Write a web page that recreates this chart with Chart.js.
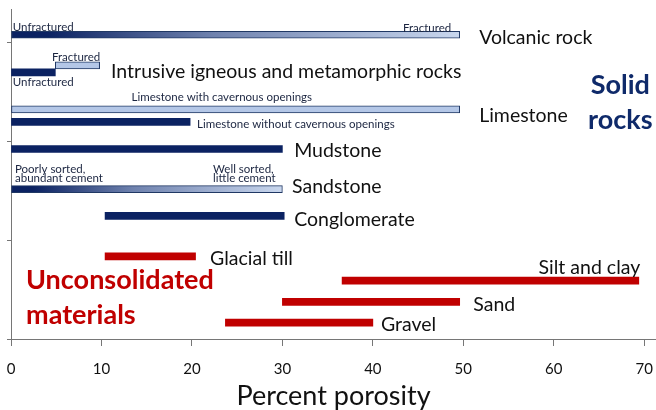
<!DOCTYPE html>
<html>
<head>
<meta charset="utf-8">
<script src="https://cdn.jsdelivr.net/npm/chart.js@4"></script>
<style>
  html, body { margin: 0; padding: 0; background: #fff; }
  #wrap { width: 656px; height: 410px; }
</style>
</head>
<body>
<div id="wrap"><canvas id="chart"></canvas></div>
<script>
// porosity ranges in percent, [low, high]
const gradientNames = ['Volcanic rock', 'Sandstone'];
const gradientRanges = [[0, 49.6], [0, 30]];
const navyNames = ['Intrusive (unfractured)', 'Limestone without cavernous openings', 'Mudstone', 'Conglomerate'];
const navyRanges = [[0, 4.9], [0, 19.8], [0, 30], [10.4, 30.2]];
const lightNames = ['Intrusive (fractured)', 'Limestone with cavernous openings'];
const lightRanges = [[4.9, 9.8], [0, 49.6]];
const looseNames = ['Glacial till', 'Silt and clay', 'Sand', 'Gravel'];
const looseRanges = [[10.4, 20.4], [36.6, 69.4], [30, 49.6], [23.7, 40]];
const xTicks = [0, 10, 20, 30, 40, 50, 60, 70];
const yTicks = [0, 1, 2, 3];

// row heights on the hidden vertical axis (0 at the bottom)
const gradientRows = [3.075, 1.515];
const navyRows = [2.695, 2.195, 1.92, 1.245];
const lightRows = [2.765, 2.32];
const looseRows = [0.835, 0.59, 0.375, 0.165];

// text notes: [text, x value, row, align, style]
const notes = [
    ['Unfractured', 0.2, 3.16, 'left', 'small'],
    ['Fractured', 48.66, 3.15, 'right', 'small'],
    ['Volcanic rock', 51.75, 3.06, 'left', 'name'],
    ['Fractured', 4.53, 2.85, 'left', 'small'],
    ['Intrusive igneous and metamorphic rocks', 11.06, 2.72, 'left', 'name'],
    ['Unfractured', 0.2, 2.60, 'left', 'small'],
    ['Limestone with cavernous openings', 23.3, 2.45, 'center', 'small'],
    ['Limestone', 51.75, 2.28, 'left', 'name'],
    ['Limestone without cavernous openings', 20.57, 2.17, 'left', 'small'],
    ['Mudstone', 31.3, 1.92, 'left', 'name'],
    ['Poorly sorted,', 0.44, 1.72, 'left', 'small'],
    ['abundant cement', 0.44, 1.63, 'left', 'small'],
    ['Well sorted,', 22.34, 1.72, 'left', 'small'],
    ['little cement', 22.34, 1.63, 'left', 'small'],
    ['Sandstone', 31.07, 1.56, 'left', 'name'],
    ['Conglomerate', 31.3, 1.23, 'left', 'name'],
    ['Glacial till', 22.0, 0.83, 'left', 'name'],
    ['Silt and clay', 69.56, 0.74, 'right', 'name'],
    ['Sand', 51.1, 0.37, 'left', 'name'],
    ['Gravel', 40.9, 0.16, 'left', 'name'],
    ['Solid', 67.35, 2.57, 'center', 'solid'],
    ['rocks', 67.35, 2.22, 'center', 'solid'],
    ['Unconsolidated', 1.66, 0.62, 'left', 'loose'],
    ['materials', 1.66, 0.27, 'left', 'loose']
];

const NAVY = '#0b2262';
const LIGHT = '#b4c7e7';
const EDGE = '#203864';
const RED = '#c00000';
const AXIS = '#767676';

const noteFonts = {
    small: { font: '11.5px Lato', color: '#1b2540', dy: 0.5 },
    name: { font: '19.5px Lato', color: '#111', dy: 2 },
    solid: { font: 'bold 27px Lato', color: '#0f2a6a', dy: 1 },
    loose: { font: 'bold 27px Lato', color: RED, dy: 3 }
};

function toPoints(ranges, rows) {
    return ranges.map((r, i) => ({ x: r, y: rows[i] }));
}

// dark-to-light fade along each bar
function gradFill(c) {
    const chart = c.chart;
    if (!chart.chartArea || c.type !== 'data') return NAVY;
    const xs = chart.scales.x;
    const x0 = xs.getPixelForValue(c.raw.x[0]);
    const x1 = xs.getPixelForValue(c.raw.x[1]);
    const g = chart.ctx.createLinearGradient(x0, 0, x1, 0);
    g.addColorStop(0, NAVY);
    g.addColorStop(0.08, NAVY);
    g.addColorStop(0.45, '#6f82ae');
    g.addColorStop(1, '#c9d7ee');
    return g;
}

const notesPlugin = {
    id: 'notes',
    afterDatasetsDraw(chart) {
        const { ctx, scales: { x, y } } = chart;
        ctx.save();
        ctx.textBaseline = 'middle';
        notes.forEach(([text, vx, vy, align, style]) => {
            const f = noteFonts[style];
            ctx.font = f.font;
            ctx.fillStyle = f.color;
            ctx.textAlign = align;
            ctx.fillText(text, x.getPixelForValue(vx), y.getPixelForValue(vy) + f.dy);
        });
        ctx.restore();
    }
};

new Chart(document.getElementById('chart'), {
    type: 'bar',
    data: {
        datasets: [
            { label: 'gradient', data: toPoints(gradientRanges, gradientRows), backgroundColor: gradFill, borderColor: EDGE, borderWidth: 1, borderSkipped: false },
            { label: 'navy', data: toPoints(navyRanges, navyRows), backgroundColor: NAVY, borderWidth: 0 },
            { label: 'light', data: toPoints(lightRanges, lightRows), backgroundColor: LIGHT, borderColor: EDGE, borderWidth: 1, borderSkipped: false },
            { label: 'loose', data: toPoints(looseRanges, looseRows), backgroundColor: RED, borderWidth: 0 }
        ]
    },
    options: {
        indexAxis: 'y',
        responsive: true,
        maintainAspectRatio: false,
        animation: false,
        datasets: { bar: { grouped: false, barThickness: 7 } },
        layout: { padding: { left: 7, top: 9, right: 0, bottom: 0 } },
        plugins: { legend: { display: false }, tooltip: { enabled: false } },
        scales: {
            x: {
                type: 'linear',
                min: 0,
                max: 71.3,
                afterBuildTicks: s => { s.ticks = xTicks.map(v => ({ value: v })); },
                ticks: { font: { family: 'Lato', size: 15, lineHeight: 2.7 }, color: '#111', padding: 3, maxRotation: 0 },
                grid: { drawOnChartArea: false, tickLength: 7, color: AXIS },
                border: { color: AXIS },
                title: { display: true, text: 'Percent porosity', font: { family: 'Lato', size: 27, lineHeight: 1 }, color: '#111', padding: { top: -9.5, bottom: 0 } }
            },
            y: {
                type: 'linear',
                offset: false,
                min: 0,
                max: 3.335,
                afterBuildTicks: s => { s.ticks = yTicks.map(v => ({ value: v })); },
                ticks: { display: false },
                grid: { offset: false, drawOnChartArea: false, drawTicks: true, tickLength: 4, color: AXIS },
                border: { color: AXIS }
            }
        }
    },
    plugins: [notesPlugin]
});
</script>
</body>
</html>
